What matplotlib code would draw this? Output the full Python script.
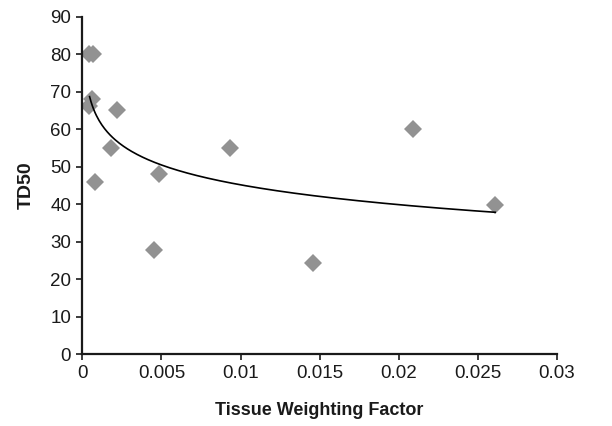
import numpy as np
import matplotlib
matplotlib.use("Agg")
import matplotlib.pyplot as plt

plt.rcParams['font.family'] = ['Liberation Sans', 'DejaVu Sans']

# Data
weighting_factor = [0.0004, 0.0007, 0.00063, 0.00044, 0.0022, 0.0018, 0.0008,
                    0.00485, 0.0045, 0.00935, 0.01458, 0.0209, 0.0261]
td50 = [80, 80, 68, 66.1, 65, 55, 45.8, 48, 27.7, 54.9, 24.3, 60, 39.8]

# Logarithmic trendline coefficients (y = a + b*ln(x))
trend_a = 9.95
trend_b = -7.64
trend_start = 0.00046

x_ticks = [0, 0.005, 0.01, 0.015, 0.02, 0.025, 0.03]
x_tick_labels = ['0', '0.005', '0.01', '0.015', '0.02', '0.025', '0.03']
y_ticks = [0, 10, 20, 30, 40, 50, 60, 70, 80, 90]

fig = plt.figure(figsize=(6.12, 4.26), dpi=100)
ax = fig.add_axes([0.1345, 0.169, 0.7755, 0.792])

ax.plot(weighting_factor, td50, linestyle='none', marker='D', markersize=9,
        color='#929292', markeredgewidth=0, zorder=2)

xs = np.linspace(trend_start, max(weighting_factor), 300)
ax.plot(xs, trend_a + trend_b * np.log(xs), color='black', linewidth=1.2, zorder=3)

ax.set_xlim(0, 0.03)
ax.set_ylim(0, 90)
ax.set_xticks(x_ticks)
ax.set_xticklabels(x_tick_labels)
ax.set_yticks(y_ticks)

for s in ['top', 'right']:
    ax.spines[s].set_visible(False)
for s in ['left', 'bottom']:
    ax.spines[s].set_linewidth(1.6)
    ax.spines[s].set_color('#1a1a1a')

ax.tick_params(axis='both', direction='out', length=4, width=1.2,
               labelsize=13.5, colors='#1a1a1a', pad=4)

ax.set_xlabel('Tissue Weighting Factor', fontsize=13, fontweight='bold',
              color='#1a1a1a', labelpad=14)
ax.set_ylabel('TD50', fontsize=14, fontweight='bold', color='#1a1a1a', labelpad=11)

fig.savefig('out.png', dpi=100)
